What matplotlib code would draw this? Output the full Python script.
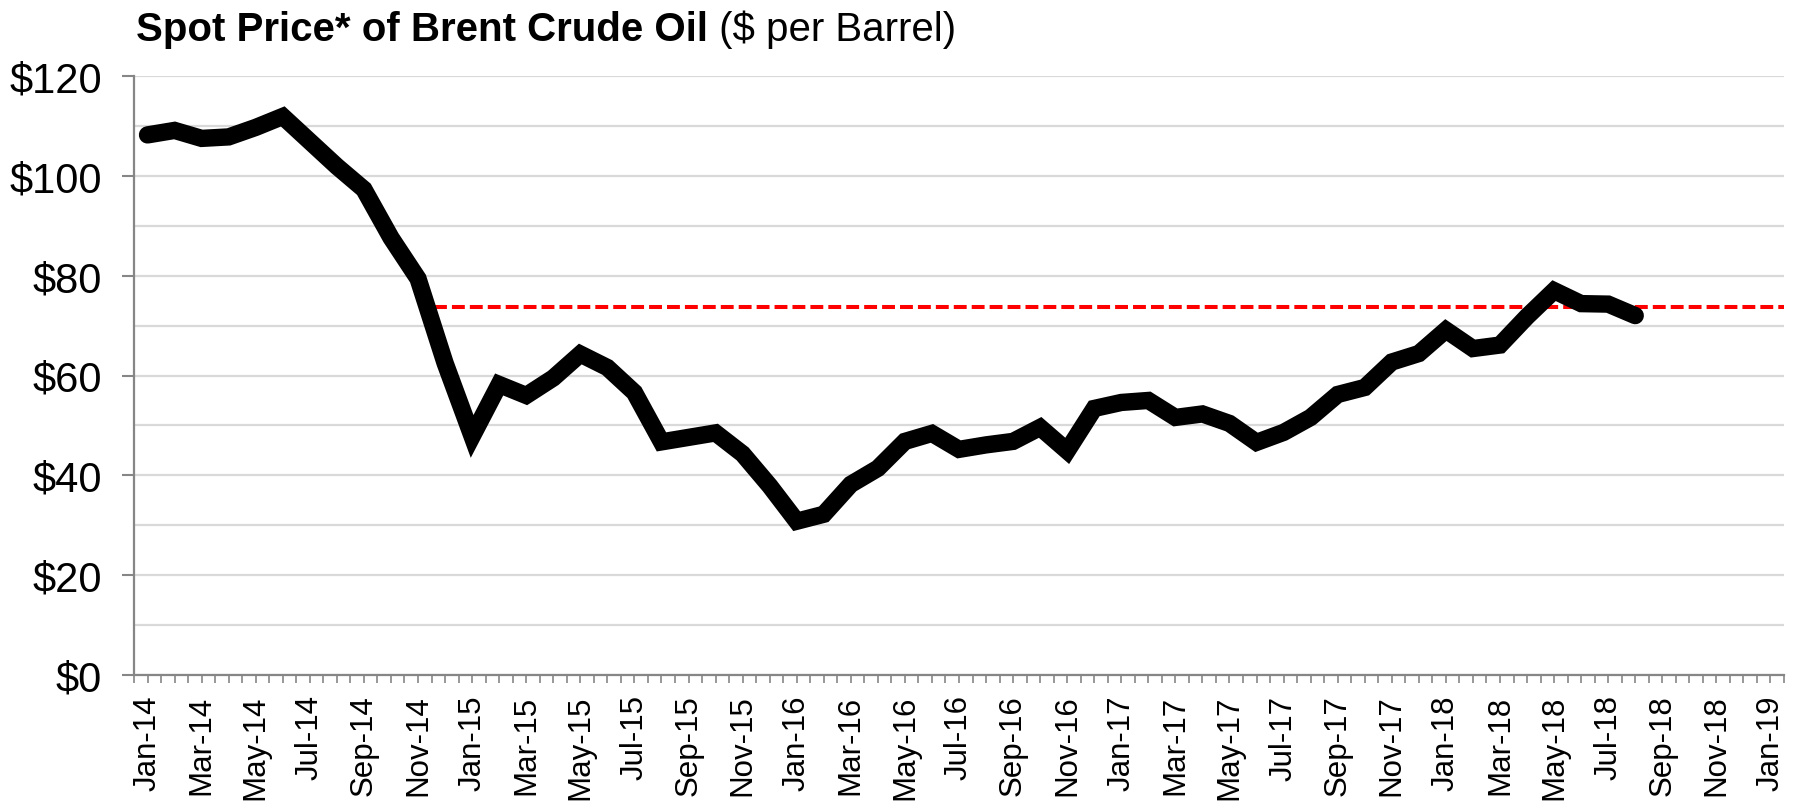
import numpy as np
import pandas as pd
import matplotlib
matplotlib.use("Agg")
import matplotlib.pyplot as plt

plt.rcParams["font.family"] = ["Liberation Sans", "DejaVu Sans"]

# monthly Brent spot price, Jan-14 .. Aug-18
prices = [108.2, 109.1, 107.5, 107.8, 109.7, 111.9, 106.9, 101.9, 97.3, 87.6, 79.4, 62.5,
          47.8, 58.2, 56.0, 59.5, 64.3, 61.6, 56.6, 46.7, 47.6, 48.5, 44.3, 37.9,
          30.8, 32.2, 38.2, 41.4, 46.8, 48.4, 45.2, 46.1, 46.8, 49.6, 44.9, 53.4,
          54.6, 55.0, 51.6, 52.3, 50.4, 46.6, 48.6, 51.6, 56.2, 57.6, 62.7, 64.4,
          69.1, 65.4, 66.1, 71.8, 77.0, 74.4, 74.3, 72.0]
months = pd.date_range("2014-01-01", "2019-01-01", freq="MS")
month_labels = [m.strftime("%b-%y") for m in months]
ref_level = 73.8
ref_start = 10.6  # month position where the reference line begins (mid Nov-14)
y_ticks = [0, 20, 40, 60, 80, 100, 120]
y_labels = ["$0", "$20", "$40", "$60", "$80", "$100", "$120"]

fig = plt.figure(figsize=(18.01, 8.04), dpi=100)
ax = fig.add_axes([134 / 1801, 1 - 676 / 804, (1784 - 134) / 1801, (676 - 77) / 804])

x = np.arange(len(prices))
ax.plot(x, prices, color="black", lw=12.5, solid_capstyle="round",
        solid_joinstyle="miter", zorder=3)

ax.plot([ref_start, len(months) - 0.5], [ref_level, ref_level], color="#ff0000", lw=2.9,
        dashes=(3.2, 1.25), zorder=2)

ax.set_xlim(-0.5, len(months) - 0.5)
ax.set_ylim(0, 120)

ax.set_yticks(y_ticks)
ax.set_yticklabels(y_labels, fontsize=30)
ax.set_yticks(np.arange(10, 120, 20), minor=True)
ax.yaxis.grid(True, which="both", color="#d9d9d9", lw=1.6)
ax.set_axisbelow(True)
ax.tick_params(axis="y", which="major", length=9, width=1.5, color="#868686", pad=14)
ax.tick_params(axis="y", which="minor", length=0)

ax.set_xticks(np.arange(0, len(months), 2))
ax.set_xticklabels(month_labels[::2], rotation=90, fontsize=22.5)
ax.set_xticks(np.arange(-0.5, len(months), 0.5), minor=True)
ax.tick_params(axis="x", which="both", length=6, width=1.2, color="#868686", pad=8)

for s in ["top", "right"]:
    ax.spines[s].set_visible(False)
for s in ["left", "bottom"]:
    ax.spines[s].set_color("#868686")
    ax.spines[s].set_linewidth(1.6)

# title: bold part + regular part
t1 = fig.text(136 / 1801, 1 - 41 / 804, "Spot Price* of Brent Crude Oil",
              fontsize=29, fontweight="bold", va="baseline", ha="left")
r = fig.canvas.get_renderer()
bb = t1.get_window_extent(renderer=r)
fig.text(bb.x1 / fig.bbox.width, 1 - 41 / 804, " ($ per Barrel)",
         fontsize=29, va="baseline", ha="left")

fig.savefig("out.png", dpi=100)
